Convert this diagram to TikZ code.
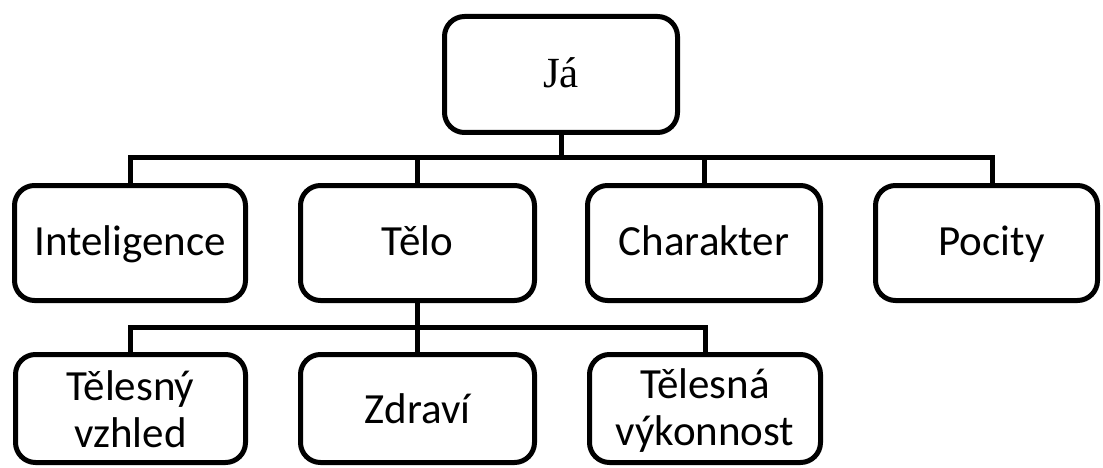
\documentclass[tikz,border=0pt]{standalone}
\usepackage{fontspec}
\setmainfont{Carlito}
\newfontfamily\serifjf{Liberation Serif}
\begin{document}
\begin{tikzpicture}[x=1pt,y=-1pt,
  box/.style={draw, line width=5pt, rounded corners=20pt, inner sep=0pt,
    align=center, font=\fontsize{43}{47}\selectfont},
  rowtwo/.style={box, minimum height=115pt, text height=32pt, text depth=8pt},
  rowthree/.style={box, minimum height=108pt},
  conn/.style={line width=5pt}]
\useasboundingbox (0,0) rectangle (1103,468);
\node[box, minimum width=233pt, minimum height=116pt, text height=31pt, text depth=4pt, font=\fontsize{43}{48}\serifjf] (ja) at (561,74.5) {Já};
\node[rowtwo, minimum width=231pt] (intel) at (130,243) {Inteligence};
\node[rowtwo, minimum width=234pt] (telo) at (417.5,243) {Tělo};
\node[rowtwo, minimum width=233pt] (char) at (704,243) {Charakter};
\node[rowtwo, minimum width=222pt] (pocity) at (986.5,243) {\hspace*{10pt}Pocity};
\node[rowthree, minimum width=230pt] (vzhled) at (130.5,408.5) {\rule{0pt}{34pt}Tělesný\\vzhled\rule[-4pt]{0pt}{4pt}};
\node[rowthree, minimum width=234pt, text height=33pt, text depth=4pt] (zdravi) at (417.5,408.5) {Zdraví};
\node[rowthree, minimum width=231pt] (vykon) at (705,408.5) {\rule{0pt}{34pt}Tělesná\\výkonnost\rule[-4pt]{0pt}{4pt}};
\coordinate (b1) at (561,158);
\coordinate (b2) at (417.5,327);
\draw[conn] (ja.south) -- (b1);
\draw[conn] (intel.north) |- (b1);
\draw[conn] (telo.north) -- (telo.north |- b1);
\draw[conn] (char.north) -- (char.north |- b1);
\draw[conn] (b1) -| ([xshift=5.5pt]pocity.north);
\draw[conn] (telo.south) -- (zdravi.north);
\draw[conn] (vzhled.north) |- (b2);
\draw[conn] (b2) -| (vykon.north);
\end{tikzpicture}
\end{document}
